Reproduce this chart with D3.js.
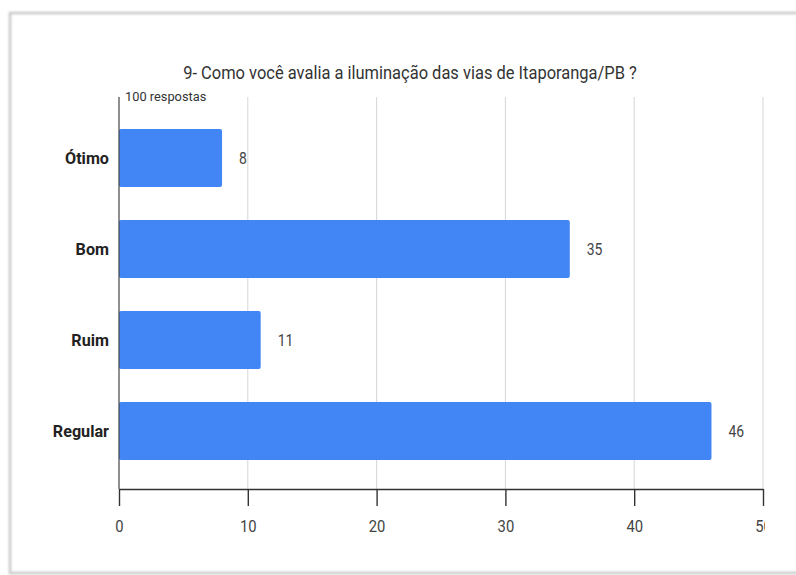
<!DOCTYPE html>
<html>
<head>
<meta charset="utf-8">
<script src="https://cdn.jsdelivr.net/npm/d3@7/dist/d3.min.js"></script>
<style>
  html, body { margin: 0; padding: 0; background: #fff; }
  svg { display: block; }
  text { font-family: Roboto, "Liberation Sans", Arial, sans-serif; }
</style>
</head>
<body>
<svg id="chart" width="796" height="575"></svg>
<script>
// Survey answers
const categories = ["Ótimo", "Bom", "Ruim", "Regular"];
const values = [8, 35, 11, 46];
const tickValues = [0, 10, 20, 30, 40, 50];
const title = "9- Como você avalia a iluminação das vias de Itaporanga/PB ?";
const subtitle = "100 respostas";

const svg = d3.select("#chart");
const W = 796, H = 575;
const narrow = 0.87; // horizontal squeeze of the lettering

const defs = svg.append("defs");
defs.append("filter").attr("id", "soft")
  .append("feGaussianBlur").attr("stdDeviation", 0.8);
defs.append("clipPath").attr("id", "plotClip")
  .append("rect").attr("x", 0).attr("y", 0).attr("width", 765).attr("height", H);

// Card frame
svg.append("path")
  .attr("d", `M${W + 5},13 L10,13 L10,573 L${W + 5},573`)
  .attr("fill", "none")
  .attr("stroke", "#c8c8c8")
  .attr("stroke-width", 2.5)
  .attr("filter", "url(#soft)");

const x = d3.scaleLinear().domain([0, 50]).range([119, 763]);
const y = d3.scaleBand().domain(categories)
  .range([112.6, 476.4]).paddingInner(0.363).paddingOuter(0.18);

const plotTop = 97, axisY = 489;

const g = svg.append("g").attr("clip-path", "url(#plotClip)");

// Vertical gridlines
g.append("g").selectAll("line").data(tickValues.slice(1)).join("line")
  .attr("x1", d => x(d)).attr("x2", d => x(d))
  .attr("y1", plotTop).attr("y2", axisY)
  .attr("stroke", "#d6d6d6").attr("stroke-width", 1);

// Bars
g.append("g").selectAll("rect").data(values).join("rect")
  .attr("x", x(0))
  .attr("y", (d, i) => y(categories[i]))
  .attr("width", d => x(d) - x(0))
  .attr("height", y.bandwidth())
  .attr("rx", 2)
  .attr("fill", "#4285f4");

// Value labels
g.append("g").selectAll("text").data(values).join("text")
  .attr("transform", (d, i) =>
    `translate(${x(d) + 17},${y(categories[i]) + y.bandwidth() / 2}) scale(${narrow},1)`)
  .attr("dy", "0.36em")
  .attr("font-size", 16)
  .attr("fill", "#444")
  .text(d => d);

// Left axis line
g.append("line")
  .attr("x1", x(0)).attr("x2", x(0))
  .attr("y1", plotTop).attr("y2", axisY)
  .attr("stroke", "#444").attr("stroke-width", 1.2);

// Bottom axis
const xAxis = d3.axisBottom(x).tickValues(tickValues).tickSize(17).tickSizeOuter(0).tickPadding(14);
const ax = g.append("g").attr("transform", `translate(0,${axisY})`).call(xAxis);
ax.select(".domain").attr("stroke", "#333").attr("stroke-width", 1.6);
ax.selectAll(".tick line").attr("stroke", "#333").attr("stroke-width", 1.4);
ax.selectAll(".tick text")
  .attr("font-family", "Roboto, 'Liberation Sans', Arial, sans-serif")
  .attr("font-size", 17).attr("fill", "#444")
  .attr("transform", `scale(${narrow},1)`);

// Category labels
svg.append("g").selectAll("text").data(categories).join("text")
  .attr("transform", d => `translate(109,${y(d) + y.bandwidth() / 2}) scale(0.95,1)`)
  .attr("dy", "0.36em")
  .attr("text-anchor", "end")
  .attr("font-size", 17)
  .attr("font-weight", "bold")
  .attr("fill", "#222")
  .text(d => d);

// Title and response count
svg.append("text")
  .attr("transform", `translate(410,79) scale(0.915,1)`)
  .attr("text-anchor", "middle")
  .attr("font-size", 18)
  .attr("fill", "#333")
  .text(title);

svg.append("text")
  .attr("transform", `translate(125,101) scale(0.95,1)`)
  .attr("font-size", 13.5)
  .attr("fill", "#333")
  .text(subtitle);
</script>
</body>
</html>
